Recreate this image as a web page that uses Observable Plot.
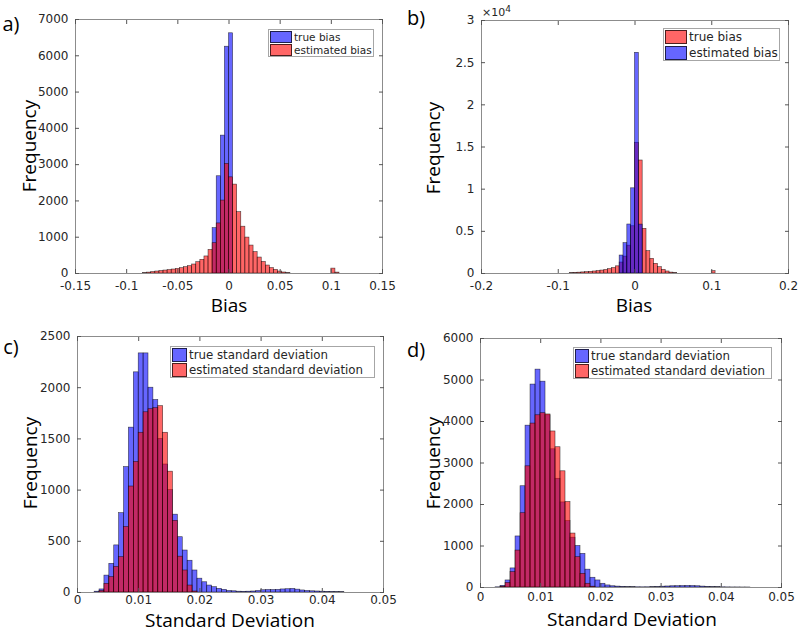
<!DOCTYPE html>
<html><head><meta charset="utf-8">
<script src="https://cdn.jsdelivr.net/npm/d3@7"></script>
<script src="https://cdn.jsdelivr.net/npm/@observablehq/plot@0.6"></script>
<style>
body{margin:0;background:#fff;}
#root{position:relative;width:800px;height:631px;overflow:hidden;background:#fff;}
.panel{position:absolute;}
.lab{position:absolute;font-family:"Open Sans",sans-serif;color:#000;white-space:nowrap;line-height:1;transform:translate(-50%,-50%);}
.ylab{transform:translate(-50%,-50%) rotate(-90deg);}
.legend{position:absolute;background:#fff;border:1px solid #a6a6a6;box-sizing:border-box;font-family:"DejaVu Sans",sans-serif;color:#262626;}
.row{position:absolute;left:1px;display:flex;align-items:center;white-space:nowrap;}
.sw{box-sizing:border-box;border:1px solid rgba(0,0,0,.7);margin-right:2px;}
.exp{position:absolute;font-family:"DejaVu Sans",sans-serif;color:#262626;font-size:11px;line-height:1;}
</style></head><body><div id="root"></div>
<script>
// ---------- data ----------
// a) bias, bins of 0.004
const aTrueStart = -0.016, aTrueW = 0.004;
const aTrue = [1250, 2680, 3800, 6250, 6620];
const aEstStart = -0.084, aEstW = 0.004;
const aEst = [10,25,40,55,68,82,95,110,128,147,174,202,248,312,377,470,650,835,1380,2010,3020,2650,2450,1690,1290,990,770,590,440,320,220,150,100,55,28,10,0,0,0,0,0,0,0,0,0,0,135,25];
// b) bias, bins of 0.005 (true drawn first, red)
const bTrueStart = -0.085, bTrueW = 0.005;
const bTrue = [40,70,100,130,160,200,240,290,350,420,520,650,850,1300,2000,3300,5600,15500,13400,5300,2650,1740,1150,750,440,240,110,50,0,0,0,0,0,0,0,0,0,280];
const bEstStart = -0.02, bEstW = 0.005;
const bEst = [2130, 3600, 5810, 10100, 26170, 5800];
// c) standard deviation, bins of 0.0008
const cStart = 0.0028, cW = 0.0008;
const cTrue = [8,30,165,280,460,775,1225,1610,2150,2335,2335,2000,1880,1500,1250,1000,760,540,410,310,215,135,100,68,52,36,26,15,12,8,7,8,10,15,22,25,24,26,30,32,35,28,20,15,12,10,8,6,5,4,3];
const cEst = [0,15,85,150,250,345,640,1035,1275,1560,1760,1790,1800,1820,1560,1180,700,350,215,68,10];
// d) standard deviation, bins of 0.00083
const dStart = 0.0025, dW = 0.00083;
const dTrue = [5,40,170,460,1230,2440,3900,4890,5250,4960,4150,3330,2620,2050,1600,1200,1000,810,430,235,170,90,50,30,22,15,10,8,6,5,6,8,12,20,25,30,32,35,38,36,30,22,15,10,8,5,3,2,2,1,1];
const dEst = [0,20,110,370,890,1790,2920,3950,4150,4200,4170,3760,3380,2800,2060,1300,730,330,90,20];

const xTicksBiasA = [-0.15,-0.1,-0.05,0,0.05,0.1,0.15];
const xTicksBiasB = [-0.2,-0.1,0,0.1,0.2];
const xTicksSD = [0,0.01,0.02,0.03,0.04,0.05];
const yTicksA = [0,1000,2000,3000,4000,5000,6000,7000];
const yTicksB = [0,5000,10000,15000,20000,25000,30000];
const yTicksC = [0,500,1000,1500,2000,2500];
const yTicksD = [0,1000,2000,3000,4000,5000,6000];

const BLUE = "#0000ff", RED = "#ff0000";

// ---------- drawing ----------
const root = document.getElementById("root");
const fmt = d => String(d);

function bins(start, w, counts) {
  return counts.map((c, i) => ({x1: start + i * w, x2: start + (i + 1) * w, y0: 0, y: c})).filter(d => d.y > 0);
}

function panel(o) {
  const marks = [];
  for (const s of o.series) {
    marks.push(Plot.rect(bins(s.start, s.w, s.counts), {
      x1: "x1", x2: "x2", y1: "y0", y2: "y",
      fill: s.color, fillOpacity: 0.6, stroke: "#000", strokeOpacity: 0.7, strokeWidth: 0.6
    }));
  }
  marks.push(Plot.frame({stroke: "#8c8c8c"}));
  marks.push(Plot.axisX({anchor: "bottom", ticks: o.xTicks, tickFormat: fmt, tickSize: 0, tickPadding: o.xPad, label: null}));
  marks.push(Plot.axisX({anchor: "bottom", ticks: o.xTicks, tickFormat: () => "", tickSize: -4, label: null, stroke: "#555"}));
  marks.push(Plot.axisX({anchor: "top", ticks: o.xTicks, tickFormat: () => "", tickSize: -4, label: null, stroke: "#555"}));
  marks.push(Plot.axisY({anchor: "left", ticks: o.yTicks, tickFormat: o.yFmt || fmt, tickSize: 0, tickPadding: 7, label: null}));
  marks.push(Plot.axisY({anchor: "left", ticks: o.yTicks, tickFormat: () => "", tickSize: -4, label: null, stroke: "#555"}));
  marks.push(Plot.axisY({anchor: "right", ticks: o.yTicks, tickFormat: () => "", tickSize: -4, label: null, stroke: "#555"}));
  const svg = Plot.plot({
    width: o.width, height: o.height,
    marginLeft: o.m[0], marginRight: o.m[1], marginTop: o.m[2], marginBottom: o.m[3],
    x: {domain: o.xDomain}, y: {domain: o.yDomain},
    style: {fontFamily: "DejaVu Sans, sans-serif", fontSize: "12px", color: "#262626", background: "transparent", overflow: "visible"},
    marks
  });
  const wrap = document.createElement("div");
  wrap.className = "panel";
  wrap.style.left = o.left + "px"; wrap.style.top = o.top + "px";
  wrap.appendChild(svg);
  root.appendChild(wrap);
}

function label(text, x, y, size, rotate) {
  const d = document.createElement("div");
  d.className = "lab" + (rotate ? " ylab" : "");
  d.style.left = x + "px"; d.style.top = y + "px"; d.style.fontSize = size + "px";
  d.textContent = text;
  root.appendChild(d);
}

function legend(o) {
  const box = document.createElement("div");
  box.className = "legend";
  Object.assign(box.style, {left: o.x + "px", top: o.y + "px", width: o.w + "px", height: o.h + "px", fontSize: o.fs + "px"});
  o.items.forEach((it, i) => {
    const r = document.createElement("div");
    r.className = "row";
    r.style.top = (o.t0 + i * o.rh) + "px";
    r.style.height = o.sh + "px";
    const sw = document.createElement("div");
    sw.className = "sw";
    sw.style.width = o.sw + "px"; sw.style.height = o.sh + "px";
    sw.style.backgroundColor = it.color === BLUE ? "rgba(0,0,255,0.6)" : "rgba(255,0,0,0.6)";
    const t = document.createElement("span");
    t.textContent = it.label;
    r.appendChild(sw); r.appendChild(t);
    box.appendChild(r);
  });
  root.appendChild(box);
}

// a)
panel({left: 0, top: 0, width: 400, height: 320, m: [75, 18, 19, 47],
  xDomain: [-0.15, 0.15], yDomain: [0, 7000], xTicks: xTicksBiasA, yTicks: yTicksA, xPad: 8,
  series: [{start: aTrueStart, w: aTrueW, counts: aTrue, color: BLUE}, {start: aEstStart, w: aEstW, counts: aEst, color: RED}]});
// b)
panel({left: 400, top: 0, width: 400, height: 320, m: [81, 12, 20, 47],
  xDomain: [-0.2, 0.2], yDomain: [0, 30000], xTicks: xTicksBiasB, yTicks: yTicksB, xPad: 8, yFmt: d => String(d / 1e4),
  series: [{start: bTrueStart, w: bTrueW, counts: bTrue, color: RED}, {start: bEstStart, w: bEstW, counts: bEst, color: BLUE}]});
// c)
panel({left: 0, top: 320, width: 400, height: 311, m: [77, 17, 16, 39],
  xDomain: [0, 0.05], yDomain: [0, 2500], xTicks: xTicksSD, yTicks: yTicksC, xPad: 3,
  series: [{start: cStart, w: cW, counts: cTrue, color: BLUE}, {start: cStart, w: cW, counts: cEst, color: RED}]});
// d)
panel({left: 400, top: 320, width: 400, height: 311, m: [80, 19, 18, 44],
  xDomain: [0, 0.05], yDomain: [0, 6000], xTicks: xTicksSD, yTicks: yTicksD, xPad: 5,
  series: [{start: dStart, w: dW, counts: dTrue, color: BLUE}, {start: dStart, w: dW, counts: dEst, color: RED}]});

// axis labels
label("Frequency", 29, 146, 19, true);
label("Bias", 229, 305, 19);
label("Frequency", 433, 148, 19, true);
label("Bias", 634, 305, 19);
label("Frequency", 30, 463, 19, true);
label("Standard Deviation", 230, 620, 19);
label("Frequency", 433, 463, 19, true);
label("Standard Deviation", 632, 619, 19);
// panel letters
label("a)", 11, 24, 20);
label("b)", 416, 18, 20);
label("c)", 11, 347, 20);
label("d)", 416, 350, 20);

// exponent
const ex = document.createElement("div");
ex.className = "exp";
ex.style.left = "482px"; ex.style.top = "5px";
ex.innerHTML = "×10<sup style='font-size:9px;vertical-align:4px'>4</sup>";
root.appendChild(ex);

// legends
legend({x: 268, y: 29, w: 106, h: 28, fs: 10.5, sw: 22, sh: 12, rh: 13.5, t0: 0.5,
  items: [{color: BLUE, label: "true bias"}, {color: RED, label: "estimated bias"}]});
legend({x: 663, y: 28, w: 117, h: 33, fs: 12, sw: 22, sh: 14, rh: 16, t0: 0.5,
  items: [{color: RED, label: "true bias"}, {color: BLUE, label: "estimated bias"}]});
legend({x: 170, y: 346, w: 205, h: 32, fs: 11.8, sw: 15, sh: 14, rh: 15.5, t0: 0.5,
  items: [{color: BLUE, label: "true standard deviation"}, {color: RED, label: "estimated standard deviation"}]});
legend({x: 573, y: 347, w: 199, h: 32, fs: 11.8, sw: 14, sh: 14, rh: 15.5, t0: 0.5,
  items: [{color: BLUE, label: "true standard deviation"}, {color: RED, label: "estimated standard deviation"}]});
</script></body></html>
